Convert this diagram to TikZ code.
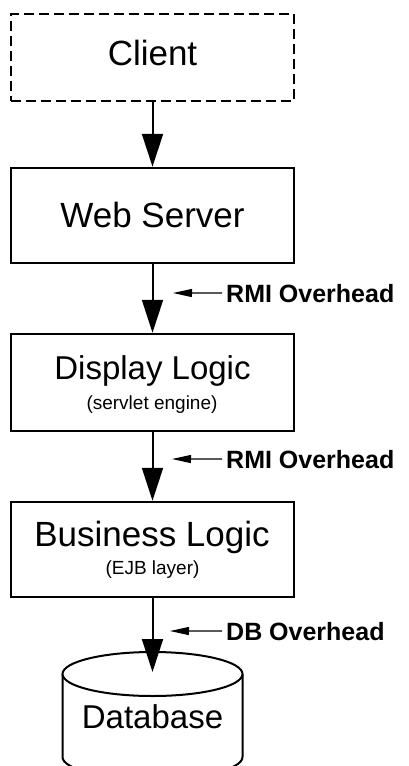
\documentclass[tikz,border=0pt]{standalone}
\usepackage{fontspec}
\setmainfont{Liberation Sans}
\usetikzlibrary{arrows.meta}

\tikzset{
  tier/.style={draw, line width=2.5pt, minimum width=283pt, inner sep=0pt},
  tiername/.style={anchor=base, inner sep=0pt, font=\fontsize{35}{40}\selectfont},
  tiernote/.style={anchor=base, inner sep=0pt, font=\fontsize{19}{22}\selectfont},
  flow/.style={line width=2pt, -{Triangle[length=33pt,width=21pt]}},
  cost/.style={anchor=base west, inner xsep=4pt, inner ysep=0pt, font=\bfseries\fontsize{25}{30}\selectfont},
  costarrow/.style={line width=1.2pt, -{Triangle[length=19pt,width=8pt]}},
}

\begin{document}
\begin{tikzpicture}[x=1pt,y=1pt]
\useasboundingbox (0,0) rectangle (408,-766);
% tiers
\node[tier, dashed, dash pattern=on 10pt off 5pt, minimum height=87pt] (client) at (152.5,-57.5) {};
\node[tier, minimum height=95pt] (web) at (152.5,-215.5) {};
\node[tier, minimum height=97pt] (display) at (152.5,-382.5) {};
\node[tier, minimum height=95pt] (business) at (152.5,-549.5) {};
\node[tiername] (clientname) at (152.5,-65) {Client};
\node[tiername] (webname) at (152.5,-227) {Web Server};
\node[tiername, font=\fontsize{33}{38}\selectfont] (displayname) at (152.5,-379.5) {Display Logic};
\node[tiernote] (displaynote) at (152,-409) {(servlet engine)};
\node[tiername] (businessname) at (152,-546.5) {Business Logic};
\node[tiernote] (businessnote) at (152.5,-574) {(EJB layer)};
% database
\draw[line width=2pt] (62.5,-674) -- (62.5,-757) arc[start angle=180, end angle=360, x radius=90, y radius=22] -- (242.5,-674);
\draw[line width=2pt, fill=white] (152.5,-674) ellipse [x radius=90, y radius=22];
\node[tiername, font=\fontsize{33}{38}\selectfont] (dbname) at (152.5,-728) {Database};
\coordinate (dbtop) at (152.5,-672);
% calls
\draw[flow] (client) -- (web);
\draw[flow] (web) -- (display);
\draw[flow] (display) -- (business);
\draw[flow] (business) -- (dbtop);
% overheads
\node[cost] (rmione) at (222,-302) {RMI Overhead};
\node[cost] (rmitwo) at (222,-468) {RMI Overhead};
\node[cost] (dbcost) at (222,-640) {DB Overhead};
\coordinate (rmionetip) at (173,-293);
\coordinate (rmitwotip) at (172,-459);
\coordinate (dbcosttip) at (170,-631);
\draw[costarrow] (rmione.west) -- (rmionetip);
\draw[costarrow] (rmitwo.west) -- (rmitwotip);
\draw[costarrow] (dbcost.west) -- (dbcosttip);
\end{tikzpicture}
\end{document}
